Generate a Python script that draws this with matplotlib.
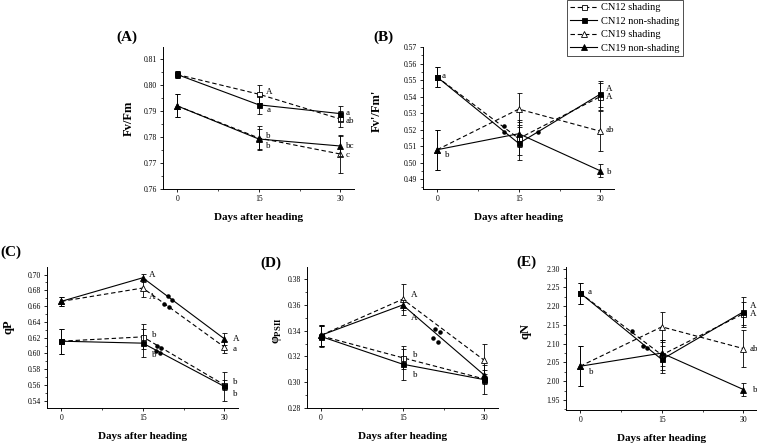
import matplotlib
matplotlib.use('Agg')
import matplotlib.pyplot as plt
from matplotlib.ticker import MultipleLocator, FormatStrFormatter

plt.rcParams['font.family'] = ['Liberation Serif', 'DejaVu Serif']
plt.rcParams['mathtext.fontset'] = 'custom'
plt.rcParams['mathtext.rm'] = 'Liberation Serif'
plt.rcParams['mathtext.bf'] = 'Liberation Serif:bold'

days = [0, 15, 30]
series = ['CN12 shading', 'CN12 non-shading', 'CN19 shading', 'CN19 non-shading']

# (A) Fv/Fm
fvfm = [[0.8042, 0.7966, 0.7870], [0.8042, 0.7925, 0.7891],
        [0.7921, 0.7797, 0.7735], [0.7921, 0.7793, 0.7766]]
fvfm_err = [[0.0012, 0.0035, 0.0030], [0.0012, 0.0035, 0.0030],
            [0.0045, 0.0045, 0.0075], [0.0045, 0.0040, 0.0040]]
# (B) Fv'/Fm'
fvfm2 = [[0.5518, 0.5146, 0.5400], [0.5518, 0.5116, 0.5415],
         [0.5078, 0.5324, 0.5190], [0.5078, 0.5175, 0.4950]]
fvfm2_err = [[0.006, 0.010, 0.008], [0.006, 0.010, 0.008],
             [0.012, 0.0095, 0.012], [0.012, 0.008, 0.004]]
# (C) qP
qp = [[0.6155, 0.6210, 0.5600], [0.6155, 0.6130, 0.5580],
      [0.6660, 0.6830, 0.6080], [0.6660, 0.6960, 0.6185]]
qp_err = [[0.016, 0.016, 0.006], [0.016, 0.018, 0.019],
          [0.006, 0.011, 0.008], [0.006, 0.005, 0.008]]
# (D) phi PSII
phi = [[0.3360, 0.3190, 0.3025], [0.3355, 0.3140, 0.3020],
       [0.3365, 0.3645, 0.3170], [0.3365, 0.3600, 0.3055]]
phi_err = [[0.008, 0.009, 0.004], [0.008, 0.012, 0.011],
           [0.008, 0.012, 0.0125], [0.008, 0.004, 0.004]]
# (E) qN
qn = [[2.235, 2.070, 2.180], [2.235, 2.058, 2.185],
      [2.040, 2.145, 2.087], [2.040, 2.075, 1.978]]
qn_err = [[0.028, 0.040, 0.030], [0.028, 0.035, 0.040],
          [0.053, 0.040, 0.050], [0.053, 0.035, 0.016]]

# significance letters: (x, y, text)
letters_a = [(16.4, 0.7975, 'A'), (16.4, 0.7905, 'a'), (16.4, 0.7805, 'b'), (16.4, 0.7765, 'b'),
             (31.0, 0.7893, 'a'), (31.0, 0.7863, 'ab'), (31.0, 0.7765, 'bc'), (31.0, 0.7730, 'c')]
letters_b = [(0.8, 0.5525, 'a'), (1.4, 0.5045, 'b'), (31.0, 0.5445, 'A'), (31.0, 0.5395, 'A'),
             (31.0, 0.5195, 'ab'), (31.2, 0.4945, 'b')]
letters_c = [(16.1, 0.6995, 'A'), (16.1, 0.6720, 'A'), (16.6, 0.6235, 'b'), (16.6, 0.5985, 'b'),
             (31.6, 0.6183, 'A'), (31.6, 0.6053, 'a'), (31.6, 0.5632, 'b'), (31.6, 0.5490, 'b')]
letters_d = [(16.5, 0.3675, 'A'), (16.5, 0.3500, 'A'), (16.8, 0.3210, 'b'), (16.8, 0.3060, 'b')]
letters_e = [(1.4, 2.237, 'a'), (1.6, 2.025, 'b'), (31.2, 2.200, 'A'), (31.2, 2.178, 'A'),
             (31.2, 2.087, 'ab'), (31.8, 1.978, 'b')]

# stray black dots seen on the lines
dots_b = ([12.2, 12.3, 18.5], [0.5220, 0.5188, 0.5184])
dots_c = ([19.6, 20.3, 18.9, 19.8, 17.6, 18.3, 17.4, 18.1],
          [0.6730, 0.6684, 0.6629, 0.6587, 0.6095, 0.6070, 0.6030, 0.6000])
dots_d = ([20.85, 21.8, 20.6, 21.5], [0.3416, 0.3393, 0.3346, 0.3310])
dots_e = ([9.5, 11.6, 12.3], [2.135, 2.095, 2.088])

panels = [
    ('(A)', fvfm, fvfm_err, 'Fv/Fm', (0.7600, 0.8148), 0.01, 0.005, letters_a, None,
     [0.2153, 0.5743, 0.2523, 0.3198], (0.168, 0.917), (-0.15, 0.50)),
    ('(B)', fvfm2, fvfm2_err, "Fv'/Fm'", (0.4840, 0.5700), 0.01, 0.005, letters_b, dots_b,
     [0.5588, 0.5743, 0.2523, 0.3198], (0.506, 0.917), (-0.21, 0.55)),
    ('(C)', qp, qp_err, 'qP', (0.5307, 0.7097), 0.02, 0.01, letters_c, dots_c,
     [0.0621, 0.0811, 0.2523, 0.3176], (0.0145, 0.432), (-0.17, 0.58)),
    ('(D)', phi, phi_err, r'φ$_{\mathbf{PSII}}$', (0.2800, 0.3895), 0.02, 0.01, letters_d, dots_d,
     [0.4055, 0.0811, 0.2523, 0.3176], (0.358, 0.408), (-0.12, 0.55)),
    ('(E)', qn, qn_err, 'qN', (1.9234, 2.3045), 0.05, 0.025, letters_e, dots_e,
     [0.7477, 0.0766, 0.2523, 0.3221], (0.696, 0.410), (-0.18, 0.55)),
]

styles = [('--', 's', 'white'), ('-', 's', 'black'), ('--', '^', 'white'), ('-', '^', 'black')]

fig = plt.figure(figsize=(7.57, 4.44), dpi=100)
handles = []
for tag, data, errs, ylab, ylim, major, minor, letters, dots, rect, tagpos, labpos in panels:
    ax = fig.add_axes(rect)
    for i, (vals, err) in enumerate(zip(data, errs)):
        ls, mk, fc = styles[i]
        c = ax.errorbar(days, vals, yerr=err, ls=ls, marker=mk, mfc=fc, mec='black',
                        color='black', ms=3.6 if mk == 's' else 4.2, lw=0.8, mew=0.6,
                        elinewidth=0.6, capsize=1.8, capthick=0.6, label=series[i],
                        zorder=3 + (i % 2))
        if ls == '--':
            c[0].set_dashes((4, 2.5))
        if tag == '(A)':
            handles.append(c[0])
    if dots is not None:
        ax.scatter(dots[0], dots[1], s=5, color='black', zorder=6)
    for x, y, t in letters:
        ax.text(x, y, t, fontsize=6.5, va='center', ha='left', zorder=7)
    ax.set_xlim(-2.6, 32.5)
    ax.set_ylim(*ylim)
    ax.set_xticks(days)
    ax.xaxis.set_minor_locator(MultipleLocator(7.5))
    ax.yaxis.set_major_locator(MultipleLocator(major))
    ax.yaxis.set_minor_locator(MultipleLocator(minor))
    ax.yaxis.set_major_formatter(FormatStrFormatter('%.2f'))
    ax.tick_params(which='major', direction='out', length=2.5, width=0.6, labelsize=5.5, pad=2)
    ax.tick_params(which='minor', direction='out', length=1.5, width=0.5)
    for s in ['top', 'right']:
        ax.spines[s].set_visible(False)
    for s in ['left', 'bottom']:
        ax.spines[s].set_linewidth(0.7)
    ax.set_xlabel('Days after heading', fontsize=8, fontweight='bold')
    ax.xaxis.set_label_coords(0.5, -0.17)
    ax.set_ylabel(ylab, fontsize=9, fontweight='bold')
    ax.yaxis.set_label_coords(*labpos)
    fig.text(tagpos[0], tagpos[1], tag, fontsize=11, fontweight='bold', ha='center', va='center')

leg = fig.legend(handles, series, loc='upper left', bbox_to_anchor=(0.749, 1.0),
                 fontsize=7.5, frameon=True, fancybox=False, edgecolor='black',
                 handlelength=2.6, borderpad=0.3, labelspacing=0.4, handletextpad=0.4,
                 borderaxespad=0.0)
leg.get_frame().set_linewidth(0.6)

plt.savefig('out.png', dpi=100)
